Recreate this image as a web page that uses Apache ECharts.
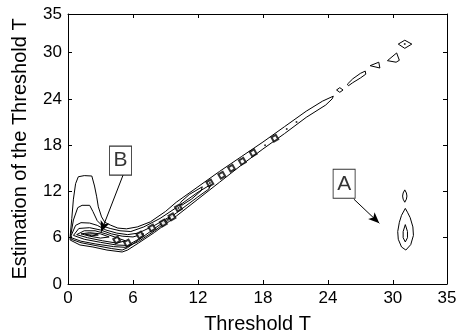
<!DOCTYPE html>
<html>
<head>
<meta charset="utf-8">
<script src="https://cdn.jsdelivr.net/npm/echarts@6/dist/echarts.min.js"></script>
<style>html,body{margin:0;padding:0;background:#fff;}#c{width:462px;height:334px;}</style>
</head>
<body>
<div id="c"></div>
<script>
// ---- data (data coordinates) ----
var xTicks = [0, 6, 12, 18, 24, 30, 35];
var yTicks = [0, 6, 12, 18, 24, 30, 35];
var xTitle = 'Threshold T';
var yTitle = 'Estimation of the Threshold T';

// nested contour lines of the left blob and the diagonal band
var blobContours = [
  [[0.2,6.2],[0.35,8.5],[0.5,11],[0.7,13],[0.95,13.9],[1.5,14.05],[2.2,14.0],[2.45,12.7],[2.65,11.3],[2.8,10.0],[3.1,8.7],[3.4,8.0],[3.9,7.65],[4.6,7.25],[5.4,7.15],[6.4,7.4],[7.6,8.05],[9,9.4],[10,10.6],[12,12.6],[14,14.6],[16,16.5],[18,18.4],[20,20.4],[22,22.4],[23.5,23.7],[24.5,24.35],[24.4,24.0],[23.8,23.2],[22,21.6],[20,19.5],[18,17.5],[16,15.4],[14,13.2],[12,11.0],[10,8.8],[8,6.7],[6.5,5.3],[5.5,4.4],[5.0,4.15],[3.6,4.4],[2.3,4.8],[1.1,5.06],[0.2,5.7],[0.2,6.2]],
  [[0.25,6.3],[0.5,8.3],[0.9,9.9],[1.3,10.2],[2.0,10.2],[2.3,9.4],[2.7,8.2],[3.2,7.5],[3.9,7.2],[4.8,6.9],[5.8,6.8],[7,7.4],[8.5,8.5],[10,9.9],[12,11.9],[13.2,12.9],[13.0,12.3],[12,11.3],[10,9.2],[8,7.2],[6.5,5.7],[5.5,4.7],[5,4.4],[4,4.6],[2.5,5.0],[1.2,5.35],[0.3,5.8],[0.25,6.3]],
  [[0.3,6.3],[0.7,7.6],[1.2,7.95],[2.0,7.9],[2.7,7.6],[3.5,7.0],[4.5,6.6],[5.5,6.4],[6.5,6.6],[8,7.6],[9.5,8.8],[9.3,8.3],[8,6.9],[6.5,5.5],[5.3,4.75],[4.2,4.85],[2.5,5.2],[1.2,5.55],[0.3,6.0],[0.3,6.3]],
  [[0.5,6.3],[1,7.2],[2,7.3],[3,7.0],[4,6.5],[5,6.2],[6,6.1],[7,6.5],[6.5,5.8],[5.5,5.0],[4.5,5.05],[3,5.4],[1.5,5.8],[0.5,6.3]],
  [[0.8,6.4],[1.5,6.9],[2.5,6.9],[3.5,6.5],[4.5,6.0],[5.3,5.6],[4.5,5.3],[3.2,5.6],[1.8,6.0],[0.8,6.4]],
  [[1.2,6.5],[2,6.65],[3,6.5],[3.8,6.1],[3,5.95],[2,6.2],[1.2,6.5]],
  [[1.6,6.45],[2.3,6.5],[2.8,6.35],[2.2,6.25],[1.6,6.45]],
  [[10.4,10.6],[11.2,11.6],[12.4,12.6],[12.3,12.1],[11.4,11.0],[10.5,10.2],[10.4,10.6]]
];

// isolated islands beyond the end of the band
var islandContours = [
  [[24.8,25.15],[25.1,25.45],[25.4,25.15],[25.1,24.85],[24.8,25.15]],
  [[25.8,25.9],[26.3,26.6],[27.0,27.3],[27.45,27.6],[27.5,27.2],[27.0,26.7],[26.3,26.1],[25.9,25.7],[25.8,25.9]],
  [[27.9,28.3],[28.7,28.75],[28.8,28.0],[27.9,28.3]],
  [[29.5,28.95],[30.35,29.95],[30.6,29.0],[30.3,28.75],[29.5,28.95]],
  [[30.5,31.1],[31.1,31.6],[31.75,31.1],[31.1,30.55],[30.5,31.1]]
];

// contours of region A
var regionAContours = [
  [[31.1,12.2],[31.25,11.8],[31.3,11.4],[31.25,11.0],[31.1,10.6],[30.95,11.0],[30.9,11.4],[30.95,11.8],[31.1,12.2]],
  [[31.15,9.8],[31.35,9.3],[31.6,8.6],[31.85,7.4],[31.9,6.3],[31.65,5.1],[31.2,4.4],[30.8,4.8],[30.5,5.8],[30.45,6.8],[30.6,8.0],[30.8,8.9],[31.15,9.8]],
  [[31.15,7.7],[31.35,6.8],[31.35,6.0],[31.15,5.45],[30.95,6.0],[30.95,6.8],[31.15,7.7]]
];

// small closed loops and dots along the band
var smallLoops = [[4.5,5.7],[5.5,5.3],[6.65,6.35],[7.75,7.26],[8.8,7.9],[9.6,8.7],[10.2,9.85],[13.1,13.1],[14.2,14.1],[15.1,15.0],[16.1,15.9],[17.1,17.0],[19.1,18.9]];
var dots = [[10.2,9.85],[13.1,13.1],[18.2,18.0],[20.2,20.1],[21.1,21.0],[31.1,31.1]];

// annotations: label, box centre, arrow tail, arrow tip
var annLabels = ['B', 'A'];
var annBoxes = [[4.85,16.0],[25.5,13.0]];
var annTails = [[5.08,14.1],[26.4,11.0]];
var annTips = [[3.05,6.74],[28.75,7.87]];

// ---- chart ----
var FONT = 'Liberation Sans, Arial, sans-serif';
var chart = echarts.init(document.getElementById('c'), null, {renderer: 'canvas'});
var lineStyle = {color: '#000', width: 1};
var series = [];
function addLines(list) {
  list.forEach(function (pts) {
    series.push({type: 'line', data: pts, showSymbol: false, symbol: 'none', smooth: false,
      lineStyle: lineStyle, silent: true, animation: false, z: 3});
  });
}
addLines(blobContours);
addLines(islandContours);
addLines(regionAContours);
series.push({type: 'scatter', data: smallLoops, symbol: 'emptyRect', symbolSize: [5, 5], symbolRotate: 30,
  itemStyle: {color: '#000', borderColor: '#000', borderWidth: 0.8}, silent: true, animation: false, z: 3});
series.push({type: 'scatter', data: dots, symbol: 'circle', symbolSize: 2,
  itemStyle: {color: '#000'}, silent: true, animation: false, z: 3});
// arrows
series.push({type: 'line', data: [], silent: true, animation: false,
  markLine: {silent: true, animation: false, symbol: ['none', 'arrow'], symbolSize: [7, 11],
    lineStyle: {color: '#000', width: 1, type: 'solid'}, label: {show: false},
    data: annTails.map(function (t, i) { return [{coord: t}, {coord: annTips[i]}]; })}});
// boxes with letters
series.push({type: 'scatter', data: annBoxes.map(function (b, i) { return {value: b, name: annLabels[i]}; }),
  symbol: 'rect', symbolSize: [22, 29], silent: true, animation: false, z: 5,
  itemStyle: {color: '#fff', borderColor: '#000', borderWidth: 1},
  label: {show: true, position: 'inside', formatter: function (p) { return p.name; },
    color: '#000', fontSize: 21, fontFamily: FONT}});

function axisCommon(pos, showLabel) {
  return {
    type: 'value', min: 0, max: 35, interval: 6, position: pos,
    axisLine: {show: true, onZero: false, lineStyle: {color: '#000', width: 1}},
    axisTick: {show: true, inside: true, length: 4, lineStyle: {color: '#000'}},
    splitLine: {show: false},
    axisLabel: {show: showLabel, color: '#000', fontSize: 17, fontFamily: FONT, margin: 6}
  };
}
var xb = axisCommon('bottom', true);
xb.name = xTitle; xb.nameLocation = 'middle'; xb.nameGap = 30;
xb.nameTextStyle = {color: '#000', fontSize: 20, fontFamily: FONT};
var xt = axisCommon('top', false);
var yl = axisCommon('left', true);
yl.name = yTitle; yl.nameLocation = 'middle'; yl.nameGap = 38;
yl.nameTextStyle = {color: '#000', fontSize: 20, fontFamily: FONT};
var yr = axisCommon('right', false);
xb.axisLabel.formatter = function (v) { return xTicks.indexOf(v) >= 0 ? String(v) : ''; };
yl.axisLabel.formatter = function (v) { return yTicks.indexOf(v) >= 0 ? String(v) : ''; };

chart.setOption({
  animation: false,
  backgroundColor: '#fff',
  grid: {left: 68, right: 15, top: 14, bottom: 50, containLabel: false, outerBoundsMode: 'none'},
  xAxis: [xb, xt],
  yAxis: [yl, yr],
  series: series
});
</script>
</body>
</html>
